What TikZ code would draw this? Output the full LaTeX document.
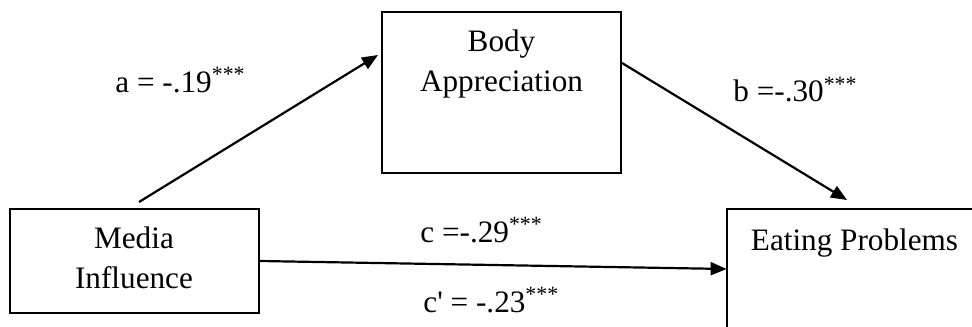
\documentclass[tikz,border=0pt]{standalone}
\usepackage{fontspec}
\setmainfont{Liberation Serif}[Ligatures=TeXOff]
\usetikzlibrary{arrows.meta}
\begin{document}
\begin{tikzpicture}[x=0.5pt,y=-0.5pt,
  boxnode/.style={draw=black,line width=1pt,inner sep=0pt,fill=none},
  boxline/.style={draw=black,line width=1pt},
  txt/.style={inner sep=0pt,anchor=base,font=\fontsize{15.6}{18}\selectfont},
  lbl/.style={inner sep=0pt,anchor=base west,font=\fontsize{15.6}{18}\selectfont},
  arr/.style={line width=1.1pt,-{Triangle[length=8pt,width=6.5pt]}}]
\useasboundingbox (0,0) rectangle (972,326);
\clip (0,0) rectangle (972,326);
% boxes
\node[boxnode,minimum width=124.5pt,minimum height=52pt] (media) at (134.5,261) {};
\node[boxnode,minimum width=119.5pt,minimum height=80.5pt] (body) at (501.5,92.5) {};
\node[inner sep=0pt,minimum width=200pt,minimum height=100pt] (eat) at (927,309) {};
\draw[boxline] (eat.south west) -- (eat.north west) -- (eat.north east);
% texts
\node[txt] (t1) at (134,248) {Media};
\node[txt] (t2) at (134,288) {Influence};
\node[txt] (t3) at (501.5,52) {Body};
\node[txt] (t4) at (501.5,91) {Appreciation};
\node[txt] (t5) at (854.5,250) {Eating Problems};
% connector endpoints
\coordinate (aS) at (139,202);
\coordinate (aE) at (378,55);
\coordinate (bS) at (body.east |- 0,63);
\coordinate (bE) at (847,200);
\coordinate (cS) at (media.east);
\coordinate (cE) at (eat.west |- 0,269);
\draw[arr] (aS) -- (aE);
\draw[arr] (bS) -- (bE);
\draw[arr] (cS) -- (cE);
% labels
\node[lbl] (la) at (115,92) {a = -.19\textsuperscript{***}};
\node[lbl] (lb) at (733,102) {b =-.30\textsuperscript{***}};
\node[lbl] (lc) at (420,242) {c =-.29\textsuperscript{***}};
\node[lbl] (lcp) at (423,312) {c' = -.23\textsuperscript{***}};
\end{tikzpicture}
\end{document}
